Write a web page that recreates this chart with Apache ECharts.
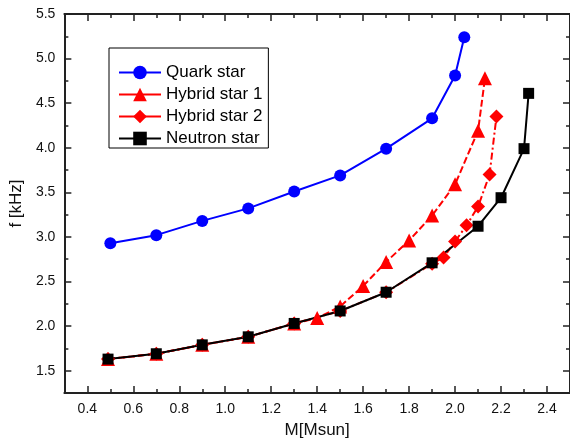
<!DOCTYPE html>
<html>
<head>
<meta charset="utf-8">
<script src="https://cdn.jsdelivr.net/npm/echarts@6/dist/echarts.min.js"></script>
<style>
html,body{margin:0;padding:0;background:#fff;}
#chart{width:570px;height:445px;}
</style>
</head>
<body>
<div id="chart"></div>
<script>
// ---- data ----
const quarkM = [0.5, 0.7, 0.9, 1.1, 1.3, 1.5, 1.7, 1.9, 2.0, 2.04];
const quarkF = [2.93, 3.02, 3.18, 3.32, 3.51, 3.69, 3.99, 4.33, 4.81, 5.24];

const hybrid1M = [0.49, 0.7, 0.9, 1.1, 1.3, 1.4, 1.5, 1.6, 1.7, 1.8, 1.9, 2.0, 2.1, 2.13];
const hybrid1F = [1.63, 1.69, 1.79, 1.88, 2.03, 2.09, 2.22, 2.45, 2.72, 2.96, 3.24, 3.59, 4.19, 4.78];

const hybrid2M = [0.49, 0.7, 0.9, 1.1, 1.3, 1.5, 1.7, 1.9, 1.95, 2.0, 2.05, 2.1, 2.15, 2.18];
const hybrid2F = [1.63, 1.69, 1.79, 1.88, 2.03, 2.17, 2.38, 2.70, 2.77, 2.95, 3.13, 3.34, 3.70, 4.35];

const neutronM = [0.49, 0.7, 0.9, 1.1, 1.3, 1.5, 1.7, 1.9, 2.1, 2.2, 2.3, 2.32];
const neutronF = [1.63, 1.69, 1.79, 1.88, 2.03, 2.17, 2.38, 2.71, 3.12, 3.44, 3.99, 4.61];

const seriesNames = ['Quark star', 'Hybrid star 1', 'Hybrid star 2', 'Neutron star'];

const xMajorTicks = [0.4, 0.6, 0.8, 1.0, 1.2, 1.4, 1.6, 1.8, 2.0, 2.2, 2.4];
const xMinorTicks = [0.5, 0.7, 0.9, 1.1, 1.3, 1.5, 1.7, 1.9, 2.1, 2.3];
const yMajorTicks = [1.5, 2.0, 2.5, 3.0, 3.5, 4.0, 4.5, 5.0, 5.5];
const yMinorTicks = [1.75, 2.25, 2.75, 3.25, 3.75, 4.25, 4.75, 5.25];

const xTitle = 'M[Msun]';
const yTitle = 'f [kHz]';

// ---- chart ----
const FONT = "'Liberation Sans', Arial, sans-serif";
const pairs = (a, b) => a.map((v, i) => [v, b[i]]);
const AX = '#222';

function xAxisDef(pos, ticks, len, showLine, showLabel, name) {
  return {
    type: 'value', position: pos, min: 0.3, max: 2.5,
    axisLine: { show: showLine, onZero: false, lineStyle: { color: AX, width: 2 } },
    axisTick: { show: true, inside: true, length: len, customValues: ticks, lineStyle: { color: AX, width: 1.5 } },
    axisLabel: { show: showLabel, customValues: ticks, margin: 9, color: '#111', fontSize: 14, fontFamily: FONT,
      formatter: v => v.toFixed(1) },
    splitLine: { show: false },
    name: name || '', nameLocation: 'middle', nameGap: 29,
    nameTextStyle: { fontSize: 17, color: '#111', fontFamily: FONT }
  };
}
function yAxisDef(pos, ticks, len, showLine, showLabel, name) {
  return {
    type: 'value', position: pos, min: 1.25, max: 5.5,
    axisLine: { show: showLine, onZero: false, lineStyle: { color: AX, width: 2 } },
    axisTick: { show: true, inside: true, length: len, customValues: ticks, lineStyle: { color: AX, width: 1.5 } },
    axisLabel: { show: showLabel, customValues: ticks, margin: 9, color: '#111', fontSize: 14, fontFamily: FONT,
      formatter: v => v.toFixed(1) },
    splitLine: { show: false },
    name: name || '', nameLocation: 'middle', nameGap: 38, nameRotate: 90,
    nameTextStyle: { fontSize: 17, color: '#111', fontFamily: FONT }
  };
}

const chart = echarts.init(document.getElementById('chart'), null, { renderer: 'canvas' });
chart.setOption({
  animation: false,
  backgroundColor: '#fff',
  grid: { left: 63, top: 14, width: 510, height: 379, containLabel: false },
  xAxis: [
    xAxisDef('bottom', xMajorTicks, 7, true, true, xTitle),
    xAxisDef('bottom', xMinorTicks, 4, false, false),
    xAxisDef('top', xMajorTicks, 7, true, false),
    xAxisDef('top', xMinorTicks, 4, false, false)
  ],
  yAxis: [
    yAxisDef('left', yMajorTicks, 7, true, true, yTitle),
    yAxisDef('left', yMinorTicks, 4, false, false),
    yAxisDef('right', yMajorTicks, 7, true, false),
    yAxisDef('right', yMinorTicks, 4, false, false)
  ],
  legend: {
    orient: 'vertical', left: 109, top: 48,
    padding: [16, 6, 1, 9],
    itemGap: 5, itemWidth: 42, itemHeight: 17,
    borderColor: '#000', borderWidth: 1, backgroundColor: '#fff',
    textStyle: { fontSize: 17, color: '#000', fontFamily: FONT },
    lineStyle: { type: 'solid', width: 2 },
    data: seriesNames
  },
  series: [
    {
      name: seriesNames[0], type: 'line', data: pairs(quarkM, quarkF),
      symbol: 'circle', symbolSize: 12,
      lineStyle: { color: '#0000ff', width: 2 }, itemStyle: { color: '#0000ff' }
    },
    {
      name: seriesNames[1], type: 'line', data: pairs(hybrid1M, hybrid1F),
      symbol: 'triangle', symbolSize: 14,
      lineStyle: { color: '#ff0000', width: 2, type: [7, 3] }, itemStyle: { color: '#ff0000' }
    },
    {
      name: seriesNames[2], type: 'line', data: pairs(hybrid2M, hybrid2F),
      symbol: 'diamond', symbolSize: 14,
      lineStyle: { color: '#ff0000', width: 2, type: [7, 3, 2, 3] }, itemStyle: { color: '#ff0000' }
    },
    {
      name: seriesNames[3], type: 'line', data: pairs(neutronM, neutronF),
      symbol: 'rect', symbolSize: 11,
      lineStyle: { color: '#000000', width: 2 }, itemStyle: { color: '#000000' }
    }
  ]
});
</script>
</body>
</html>
